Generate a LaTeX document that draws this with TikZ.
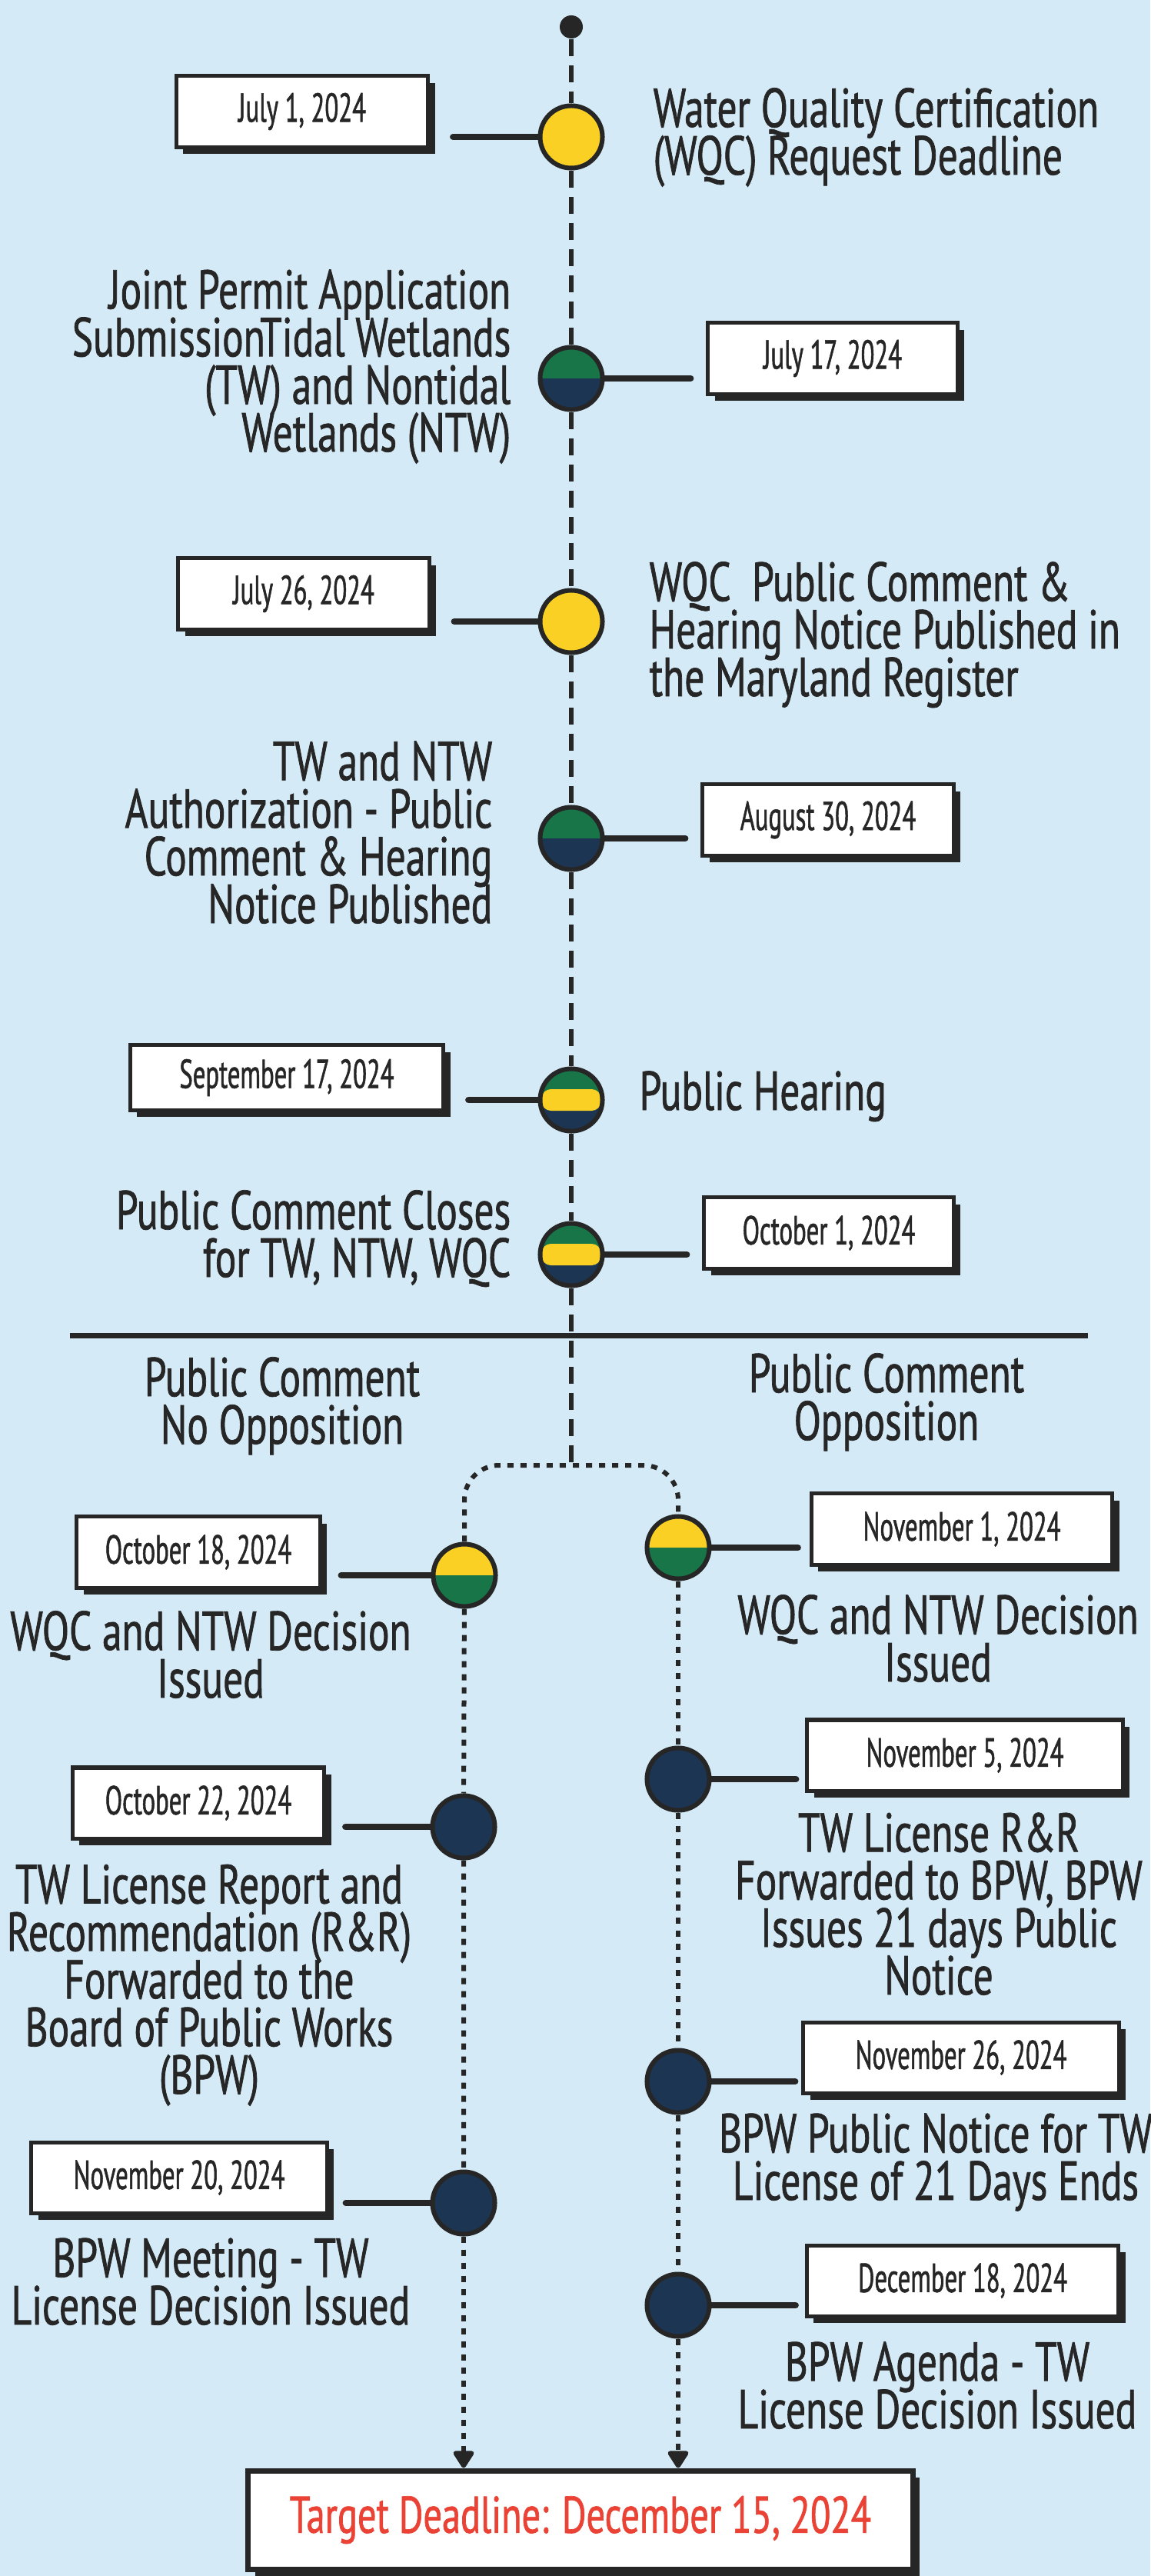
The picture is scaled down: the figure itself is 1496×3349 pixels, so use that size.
\documentclass[tikz,border=0pt]{standalone}
\usepackage{fontspec}
\setmainfont{PT Sans}[FakeStretch=0.72, FakeBold=1]
\newfontfamily\datefamily{PT Sans}[FakeStretch=0.62, FakeBold=1]
\usetikzlibrary{shadows, positioning, arrows.meta}
\setlength{\lineskiplimit}{-100pt}

\definecolor{bgblue}{RGB}{212,234,246}
\definecolor{ink}{RGB}{38,38,38}
\definecolor{tlyellow}{RGB}{249,208,35}
\definecolor{tlgreen}{RGB}{24,117,72}
\definecolor{tlnavy}{RGB}{28,53,83}
\definecolor{tlred}{RGB}{234,67,53}

\newcommand{\notefont}{\fontsize{20.3pt}{17.6pt}\selectfont}
\newcommand{\datefont}{\datefamily\fontsize{15pt}{17pt}\selectfont}
\newcommand{\targetfont}{\fontsize{19.1pt}{22pt}\selectfont}

\begin{document}
\begin{tikzpicture}[x=0.01cm, y=-0.01cm,
dot/.style     ={circle, draw=ink, line width=0.06cm, minimum size=0.81cm, inner sep=0pt},
dotY/.style    ={dot, fill=tlyellow},
dotN/.style    ={dot, fill=tlnavy},
dotGN/.style   ={dot, path picture={
    \fill[tlgreen] (path picture bounding box.north west) rectangle (path picture bounding box.east);
    \fill[tlnavy]  (path picture bounding box.west) rectangle (path picture bounding box.south east);}},
dotYG/.style   ={dot, path picture={
    \fill[tlyellow] (path picture bounding box.north west) rectangle (path picture bounding box.east);
    \fill[tlgreen]  (path picture bounding box.west) rectangle (path picture bounding box.south east);}},
dotGYN/.style  ={dot, path picture={
    \fill[tlgreen] (path picture bounding box.north west) rectangle (path picture bounding box.east);
    \fill[tlnavy]  (path picture bounding box.west) rectangle (path picture bounding box.south east);
    \fill[tlyellow, rounded corners=0.12cm] ([xshift=0.02cm, yshift=0.14cm]path picture bounding box.west) rectangle ([xshift=-0.02cm, yshift=-0.14cm]path picture bounding box.east);}},
datebox/.style ={rectangle, draw=ink, fill=white, line width=0.05cm, minimum height=0.92cm, font=\datefont, text=ink,
    drop shadow={shadow xshift=0.09cm, shadow yshift=-0.09cm, fill=ink, opacity=1}},
note/.style    ={font=\notefont, inner sep=0pt, text=ink},
mainline/.style={draw=ink, line width=0.06cm, dash pattern=on 0.22cm off 0.12cm},
branch/.style  ={draw=ink, line width=0.06cm, dash pattern=on 0.08cm off 0.09cm},
link/.style    ={draw=ink, line width=0.08cm, line cap=round},
]

\fill[bgblue] (0,0) rectangle (1496,3349);
\useasboundingbox (0,0) rectangle (1496,3349);

% Define the nodes
\node[circle, fill=ink, minimum size=0.3cm, inner sep=0pt] (top) at (743,35) {};
\node[dotY]   (c1) at (743,178)  {};
\node[dotGN]  (c2) at (743,492)  {};
\node[dotY]   (c3) at (743,808)  {};
\node[dotGN]  (c4) at (743,1090) {};
\node[dotGYN] (c5) at (743,1430) {};
\node[dotGYN] (c6) at (743,1631) {};
\coordinate   (split) at (743,1905);

\node[dotYG]  (l1) at (604,2048) {};
\node[dotN]   (l2) at (603,2375) {};
\node[dotN]   (l3) at (603,2864) {};
\node[dotYG]  (r1) at (882,2012) {};
\node[dotN]   (r2) at (882,2313) {};
\node[dotN]   (r3) at (882,2706) {};
\node[dotN]   (r4) at (882,2997) {};

\node[datebox, minimum width=3.27cm] (b1) at (393,145)  {July 1, 2024};
\node[datebox, minimum width=3.24cm] (b2) at (1083,466) {July 17, 2024};
\node[datebox, minimum width=3.26cm] (b3) at (395,772)  {July 26, 2024};
\node[datebox, minimum width=3.26cm] (b4) at (1077,1066) {August 30, 2024};
\node[datebox, minimum width=4.07cm, minimum height=0.84cm] (b5) at (373,1401) {September 17, 2024};
\node[datebox, minimum width=3.24cm] (b6) at (1078,1603) {October 1, 2024};
\node[datebox, minimum width=3.16cm] (bl1) at (258,2018) {October 18, 2024};
\node[datebox, minimum width=3.27cm] (bl2) at (258,2344) {October 22, 2024};
\node[datebox, minimum width=3.84cm] (bl3) at (233,2831) {November 20, 2024};
\node[datebox, minimum width=3.91cm] (br1) at (1251,1988) {November 1, 2024};
\node[datebox, minimum width=4.10cm] (br2) at (1255,2282) {November 5, 2024};
\node[datebox, minimum width=4.10cm] (br3) at (1250,2675) {November 26, 2024};
\node[datebox, minimum width=4.05cm] (br4) at (1252,2965) {December 18, 2024};
\node[datebox, minimum width=8.64cm, minimum height=1.28cm, line width=0.07cm, font=\targetfont, text=tlred] (target) at (755,3276) {Target Deadline: December 15, 2024};

% texts (base = last line)
\node[note, anchor=base west, align=left]  (t1) at (849,227)  {Water Quality Certification\\(WQC) Request Deadline};
\node[note, anchor=base east, align=right] (t2) at (665,587)  {Joint Permit Application\\SubmissionTidal Wetlands\\(TW) and Nontidal\\Wetlands (NTW)};
\node[note, anchor=base west, align=left]  (t3) at (844,905)  {WQC\ \ Public Comment \&\\Hearing Notice Published in\\the Maryland Register};
\node[note, anchor=base east, align=right] (t4) at (641,1200) {TW and NTW\\Authorization - Public\\Comment \& Hearing\\Notice Published};
\node[note, anchor=base west]              (t5) at (831,1443) {Public Hearing};
\node[note, anchor=base east, align=right] (t6) at (665,1660) {Public Comment Closes\\for TW, NTW, WQC};

\node[note, anchor=base, align=center] (h1) at (367,1877)  {Public Comment\\No Opposition};
\node[note, anchor=base, align=center] (h2) at (1153,1872) {Public Comment\\Opposition};

\node[note, anchor=base, align=center] (tl1) at (274,2207) {WQC and NTW Decision\\Issued};
\node[note, anchor=base, align=center] (tl2) at (272,2722) {TW License Report and\\Recommendation (R\&R)\\Forwarded to the\\Board of Public Works\\(BPW)};
\node[note, anchor=base, align=center] (tl3) at (274,3022) {BPW Meeting - TW\\License Decision Issued};
\node[note, anchor=base, align=center] (tr1) at (1220,2186) {WQC and NTW Decision\\Issued};
\node[note, anchor=base, align=center] (tr2) at (1221,2593) {TW License R\&R\\Forwarded to BPW, BPW\\Issues 21 days Public\\Notice};
\node[note, anchor=base, align=center] (tr3) at (1217,2860) {BPW Public Notice for TW\\License of 21 Days Ends};
\node[note, anchor=base, align=center] (tr4) at (1219,3157) {BPW Agenda - TW\\License Decision Issued};

% divider between the two outcomes
\draw[ink, line width=0.07cm] (91,1736) -- (1415,1736);

% Connect the nodes
\path[mainline] (top) -- (c1) -- (c2) -- (c3) -- (c4) -- (c5) -- (c6) -- (split);
\path[branch, rounded corners=0.45cm] (l1) |- (split) -| (r1);
\path[branch] (l1) -- (l2) -- (l3);
\path[branch] (r1) -- (r2) -- (r3) -- (r4);
\path[branch, -{Triangle[width=0.3cm, length=0.25cm, round]}] (l3) -- (l3 |- target.north);
\path[branch, -{Triangle[width=0.3cm, length=0.25cm, round]}] (r4) -- (r4 |- target.north);

\path[link, shorten >=0.3cm] (c1) -- (c1 -| b1.east);
\path[link, shorten >=0.2cm] (c2) -- (c2 -| b2.west);
\path[link, shorten >=0.3cm] (c3) -- (c3 -| b3.east);
\path[link, shorten >=0.2cm] (c4) -- (c4 -| b4.west);
\path[link, shorten >=0.3cm] (c5) -- (c5 -| b5.east);
\path[link, shorten >=0.2cm] (c6) -- (c6 -| b6.west);
\path[link, shorten >=0.25cm] (l1) -- (l1 -| bl1.east);
\path[link, shorten >=0.25cm] (l2) -- (l2 -| bl2.east);
\path[link, shorten >=0.22cm] (l3) -- (l3 -| bl3.east);
\path[link, shorten >=0.15cm] (r1) -- (r1 -| br1.west);
\path[link, shorten >=0.12cm] (r2) -- (r2 -| br2.west);
\path[link, shorten >=0.08cm] (r3) -- (r3 -| br3.west);
\path[link, shorten >=0.12cm] (r4) -- (r4 -| br4.west);

\end{tikzpicture}
\end{document}
